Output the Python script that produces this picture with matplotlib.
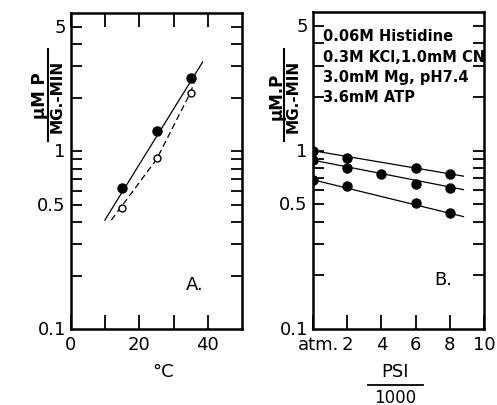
import numpy as np
import matplotlib
matplotlib.use("Agg")
import matplotlib.pyplot as plt
from matplotlib.lines import Line2D
from matplotlib.transforms import ScaledTranslation
from matplotlib.ticker import FixedLocator, NullFormatter, NullLocator

plt.rcParams['font.family'] = ['DejaVu Sans']

# -- Panel A : temperature
temp_filled = [15, 25, 35]
rate_filled = [0.62, 1.30, 2.57]
temp_open = [15, 25, 35]
rate_open = [0.48, 0.92, 2.12]
fit_solid_x = [9.9, 38.5]
fit_solid_y = [0.41, 3.18]
fit_dash_x = [11.8, 25, 35, 36]
fit_dash_y = [0.41, 0.90, 2.15, 2.45]

# -- Panel B : pressure (PSI/1000)
psi_top = [0, 2, 6, 8]
rate_top = [1.0, 0.916, 0.804, 0.743]
psi_mid = [0, 2, 4, 6, 8]
rate_mid = [0.885, 0.804, 0.743, 0.647, 0.619]
psi_bot = [0, 2, 6, 8]
rate_bot = [0.687, 0.633, 0.509, 0.45]
fit_b_x = [0, 8.8]
fit_b_top = [1.0, 0.72]
fit_b_mid = [0.885, 0.605]
fit_b_bot = [0.687, 0.427]

ylog_ticks = [0.2, 0.3, 0.4, 0.5, 0.6, 0.7, 0.8, 0.9, 1, 2, 3, 4, 5]
ylabels_pos = [0.1, 0.5, 1, 5]
ylabels_txt = ['0.1', '0.5', '1', '5']
notes = ["0.06M Histidine", "0.3M KCl,1.0mM CN", "3.0mM Mg, pH7.4", "3.6mM ATP"]

W, H = 497, 406
fig = plt.figure(figsize=(W / 100, H / 100), dpi=100)

def px_axes(l, t, r, b):
    return fig.add_axes([l / W, 1 - b / H, (r - l) / W, (b - t) / H])

def style_log(ax):
    ax.set_yscale('log')
    ax.set_ylim(0.1, 6)
    ax.yaxis.set_major_locator(FixedLocator(ylog_ticks))
    ax.yaxis.set_minor_locator(NullLocator())
    ax.yaxis.set_major_formatter(NullFormatter())
    ax.tick_params(axis='y', direction='in', length=8, width=1.3, left=True, right=True)
    for s in ax.spines.values():
        s.set_linewidth(1.8)
    for v, t in zip(ylabels_pos, ylabels_txt):
        ax.text(-0.03, v, t, transform=ax.get_yaxis_transform(), ha='right',
                va='center', fontsize=13)

def frac_label(xnum, xden, xline, ycen, num, den, half):
    fig.text(xnum / W, 1 - ycen / H, num, rotation=90, ha='center', va='center',
             fontsize=12, fontweight='bold')
    fig.text(xden / W, 1 - ycen / H, den, rotation=90, ha='center', va='center',
             fontsize=11, fontweight='bold')
    fig.add_artist(Line2D([xline / W, xline / W], [1 - (ycen - half) / H, 1 - (ycen + half) / H],
                          color='black', lw=1.5))

# -- Panel A
axA = px_axes(71, 14, 242, 330)
style_log(axA)
axA.set_xlim(0, 50)
axA.xaxis.set_major_locator(FixedLocator([0, 10, 20, 30, 40]))
axA.set_xticklabels(['0', '', '20', '', '40'], fontsize=13)
axA.tick_params(axis='x', direction='in', length=10, width=1.3, top=True, pad=4)
axA.plot(fit_solid_x, fit_solid_y, color='black', lw=0.9)
axA.plot(fit_dash_x, fit_dash_y, color='black', lw=0.9, ls=(0, (5, 3)))
axA.plot(temp_filled, rate_filled, 'o', color='black', ms=6.5)
axA.plot(temp_open, rate_open, 'o', mfc='white', mec='black', mew=1.0, ms=5)
axA.text(33.5, 0.18, 'A.', fontsize=13, va='center')
fig.text(163 / W, 1 - 372 / H, '°C', ha='center', va='center', fontsize=13)
frac_label(40, 57, 48, 96, 'µM P', 'MG.-MIN', 46)

# -- Panel B
axB = px_axes(313, 13, 484, 330)
style_log(axB)
axB.set_xlim(0, 10)
axB.xaxis.set_major_locator(FixedLocator([0, 2, 4, 6, 8, 10]))
axB.set_xticklabels(['atm.', '2', '4', '6', '8', '10'], fontsize=13)
axB.tick_params(axis='x', direction='in', length=10, width=1.3, top=False, pad=4)
lab0 = axB.get_xticklabels()[0]
lab0.set_transform(lab0.get_transform() + ScaledTranslation(6 / 100, 0, fig.dpi_scale_trans))
for fy in (fit_b_top, fit_b_mid, fit_b_bot):
    axB.plot(fit_b_x, fy, color='black', lw=0.9)
for px, py in ((psi_top, rate_top), (psi_mid, rate_mid), (psi_bot, rate_bot)):
    axB.plot(px, py, 'o', color='black', ms=6.5)
axB.text(7.1, 0.19, 'B.', fontsize=13, va='center')
for i, t in enumerate(notes):
    axB.text(0.06, 0.925 - i * 0.064, t, transform=axB.transAxes, fontsize=10.5,
             fontweight='bold', va='center')
frac_label(277, 293, 284, 96, 'µM.P', 'MG.-MIN', 46)

fig.text(395 / W, 1 - 372 / H, 'PSI', ha='center', va='center', fontsize=13)
fig.add_artist(Line2D([368 / W, 423 / W], [1 - 386 / H, 1 - 386 / H], color='black', lw=1.3))
fig.text(395 / W, 1 - 398 / H, '1000', ha='center', va='center', fontsize=12)

fig.savefig('out.png', dpi=100)
